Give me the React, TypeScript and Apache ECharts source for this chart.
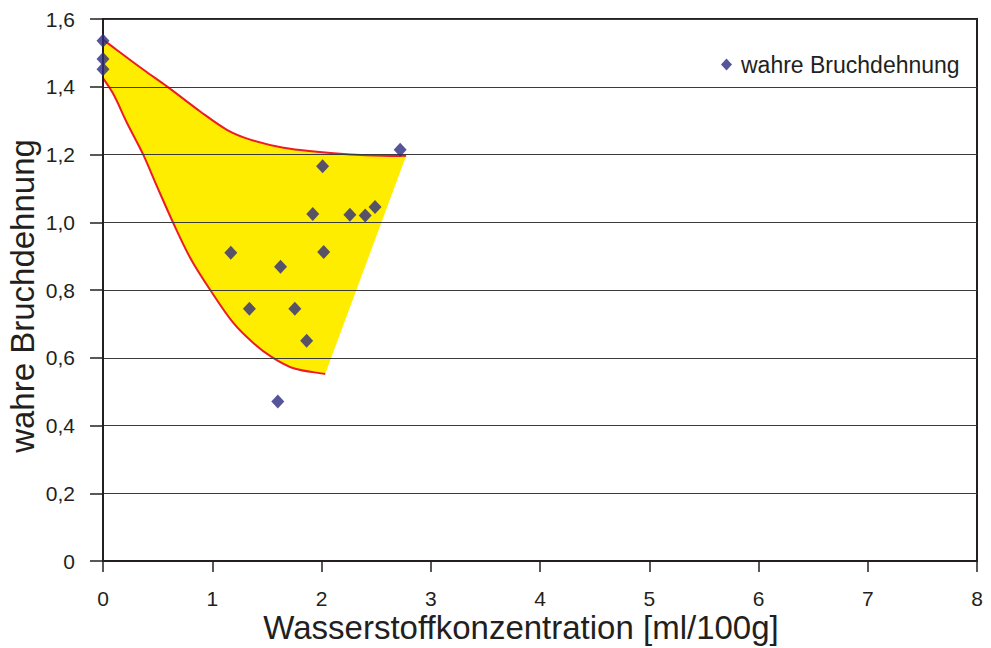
import React, { useEffect, useRef } from "react";
import * as echarts from "echarts";

// Measured points "wahre Bruchdehnung"
const pointX = [0, 0, 0, 1.17, 1.34, 1.6, 1.625, 1.756, 1.864, 1.92, 2.01, 2.02, 2.26, 2.4, 2.49, 2.72];
const pointY = [1.536, 1.482, 1.452, 0.91, 0.745, 0.471, 0.869, 0.745, 0.65, 1.024, 1.165, 0.912, 1.022, 1.02, 1.045, 1.214];

// Scatter band boundaries (upper and lower curves)
const upperX = [0, 0.371, 0.585, 0.89, 1.134, 1.348, 1.652, 1.958, 2.263, 2.567, 2.775];
const upperY = [1.539, 1.45, 1.401, 1.327, 1.273, 1.244, 1.22, 1.208, 1.2, 1.196, 1.196];
const lowerX = [0, 0.097, 0.22, 0.366, 0.494, 0.64, 0.8, 0.982, 1.195, 1.378, 1.546, 1.744, 2.034];
const lowerY = [1.426, 1.377, 1.293, 1.201, 1.106, 1.0, 0.894, 0.8, 0.702, 0.643, 0.602, 0.569, 0.552];

const xTicks = [0, 1, 2, 3, 4, 5, 6, 7, 8];
const yTicks = [0, 0.2, 0.4, 0.6, 0.8, 1.0, 1.2, 1.4, 1.6];

const seriesName = "wahre Bruchdehnung";
const xTitle = "Wasserstoffkonzentration [ml/100g]";
const yTitle = "wahre Bruchdehnung";

const FONT = '"Liberation Sans", Arial, sans-serif';
const TEXT = "#231F20";

type P = number[];

function dist(a: P, b: P) {
  return Math.hypot(b[0] - a[0], b[1] - a[1]) || 1e-6;
}

// Smooth curve through pixel points with chord-length scaled tangents
function splinePath(pts: P[], start: boolean): string {
  const n = pts.length;
  const tangents: P[] = pts.map((p, i) => {
    if (i === 0) {
      const d = dist(pts[0], pts[1]);
      return [(pts[1][0] - p[0]) / d, (pts[1][1] - p[1]) / d];
    }
    if (i === n - 1) {
      const d = dist(pts[n - 2], pts[n - 1]);
      return [(p[0] - pts[n - 2][0]) / d, (p[1] - pts[n - 2][1]) / d];
    }
    const d = dist(pts[i - 1], pts[i]) + dist(pts[i], pts[i + 1]);
    return [(pts[i + 1][0] - pts[i - 1][0]) / d, (pts[i + 1][1] - pts[i - 1][1]) / d];
  });
  let s = start ? `M${pts[0][0]},${pts[0][1]}` : `L${pts[0][0]},${pts[0][1]}`;
  for (let i = 0; i < n - 1; i++) {
    const p1 = pts[i];
    const p2 = pts[i + 1];
    const L = dist(p1, p2) / 3;
    const c1x = p1[0] + tangents[i][0] * L;
    const c1y = p1[1] + tangents[i][1] * L;
    const c2x = p2[0] - tangents[i + 1][0] * L;
    const c2y = p2[1] - tangents[i + 1][1] * L;
    s += ` C${c1x},${c1y} ${c2x},${c2y} ${p2[0]},${p2[1]}`;
  }
  return s;
}

export default function App() {
  const ref = useRef<HTMLDivElement>(null);

  useEffect(() => {
    if (!ref.current) return;
    const chart = echarts.init(ref.current, undefined, { renderer: "svg" });

    const scatterData = pointX.map((x, i) => [x, pointY[i]]);

    const option: any = {
      animation: false,
      backgroundColor: "#ffffff",
      textStyle: { fontFamily: FONT, color: TEXT },
      grid: {
        left: 103,
        right: 14,
        top: 19,
        bottom: 87,
        show: true,
        borderColor: TEXT,
        borderWidth: 2,
        containLabel: false,
      },
      legend: {
        data: [seriesName],
        left: 716,
        top: 48,
        icon: "diamond",
        itemWidth: 11,
        itemHeight: 12,
        textStyle: {
          fontFamily: FONT,
          fontSize: 23,
          color: TEXT,
          padding: [0, 0, 0, 4],
        },
      },
      xAxis: {
        type: "value",
        min: xTicks[0],
        max: xTicks[xTicks.length - 1],
        interval: 1,
        axisLine: { show: true, onZero: false, lineStyle: { color: TEXT, width: 2 } },
        axisTick: { show: true, length: 11, lineStyle: { color: TEXT, width: 1.5 } },
        axisLabel: {
          margin: 27,
          fontSize: 21,
          color: TEXT,
          fontFamily: FONT,
          formatter: (v: number) => String(v),
        },
        splitLine: { show: false },
      },
      yAxis: {
        type: "value",
        min: yTicks[0],
        max: yTicks[yTicks.length - 1],
        interval: 0.2,
        axisLine: { show: true, onZero: false, lineStyle: { color: TEXT, width: 2 } },
        axisTick: { show: true, length: 13, lineStyle: { color: TEXT, width: 1.5 } },
        axisLabel: {
          margin: 28,
          fontSize: 21,
          color: TEXT,
          fontFamily: FONT,
          formatter: (v: number) => (v === 0 ? "0" : v.toFixed(1).replace(".", ",")),
        },
        splitLine: { show: true, lineStyle: { color: "#3a3a3a", width: 1.2 } },
      },
      graphic: [
        {
          type: "text",
          x: 521,
          y: 627,
          style: {
            text: xTitle,
            fontSize: 33,
            fontFamily: FONT,
            fill: TEXT,
            textAlign: "center",
            textVerticalAlign: "middle",
          },
        },
        {
          type: "text",
          x: 22,
          y: 296,
          rotation: Math.PI / 2,
          style: {
            text: yTitle,
            fontSize: 33,
            fontFamily: FONT,
            fill: TEXT,
            textAlign: "center",
            textVerticalAlign: "middle",
          },
        },
      ],
      series: [
        {
          type: "custom",
          name: "band",
          coordinateSystem: "cartesian2d",
          z: -1,
          silent: true,
          data: [[0, 0]],
          renderItem: (_params: any, api: any) => {
            const up = upperX.map((x, i) => api.coord([x, upperY[i]]));
            const lo = lowerX.map((x, i) => api.coord([x, lowerY[i]]));
            const loRev = lo.slice().reverse();
            const fillD = splinePath(up, true) + " " + splinePath(loRev, false) + " Z";
            return {
              type: "group",
              children: [
                {
                  type: "path",
                  shape: { pathData: fillD },
                  style: { fill: "#FFED00", stroke: "none" },
                },
                {
                  type: "path",
                  shape: { pathData: splinePath(up, true) },
                  style: { fill: "none", stroke: "#ED1C24", lineWidth: 2 },
                },
                {
                  type: "path",
                  shape: { pathData: splinePath(lo, true) },
                  style: { fill: "none", stroke: "#ED1C24", lineWidth: 2 },
                },
              ],
            };
          },
        },
        {
          type: "scatter",
          name: seriesName,
          symbol: "diamond",
          symbolSize: [13, 14],
          itemStyle: { color: "#2D2B7F" },
          z: 5,
          data: scatterData,
        },
      ],
    };

    chart.setOption(option);
    return () => chart.dispose();
  }, []);

  return <div ref={ref} style={{ width: 991, height: 648, position: "absolute", left: 0, top: 0 }} />;
}
